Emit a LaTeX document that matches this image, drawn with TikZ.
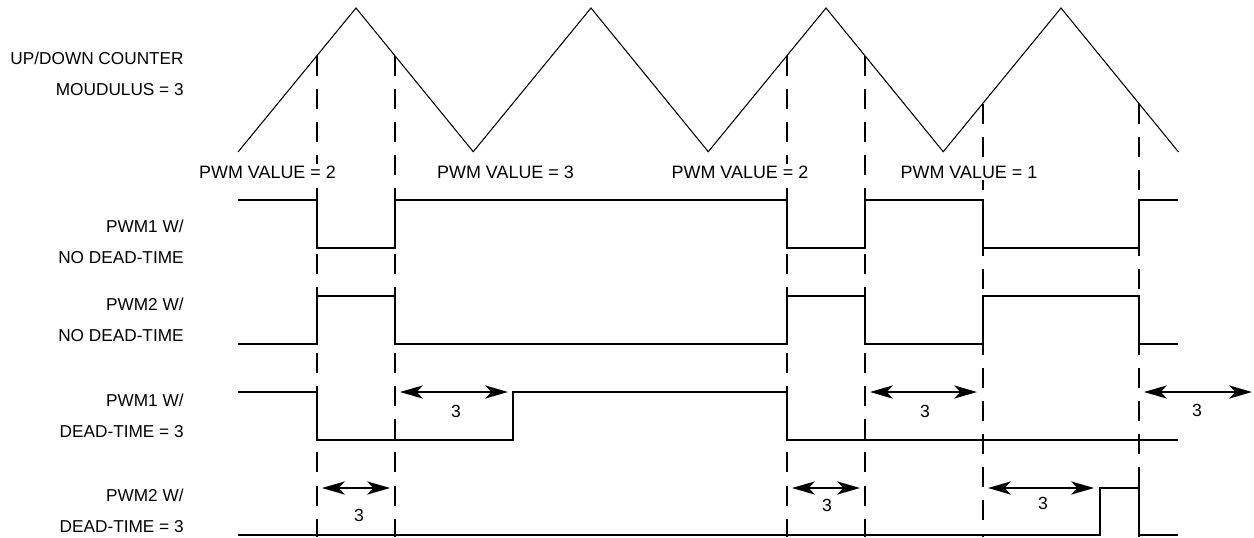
\documentclass[tikz,border=0pt]{standalone}
\usepackage{fontspec}
\setmainfont{Liberation Sans}
\usetikzlibrary{arrows.meta,calc}

\begin{document}
\begin{tikzpicture}[
    x=0.2mm,y=-0.2mm,
    tri/.style={line width=0.6pt},
    wave/.style={line width=1pt,line join=miter},
    edgeline/.style={line width=1pt,dash pattern=on 11.4pt off 7.4pt},
    span/.style={{Stealth[length=13pt,width=7.5pt,inset=3.5pt]}-{Stealth[length=13pt,width=7.5pt,inset=3.5pt]},
                 line width=0.9pt},
    lbl/.style={font=\fontsize{9.8}{17.6}\selectfont,align=right,anchor=east,inner sep=0pt},
    val/.style={font=\fontsize{10.2}{12}\selectfont,fill=white,inner sep=1pt},
    cnt/.style={font=\fontsize{10}{12}\selectfont,inner sep=0pt},
]
\useasboundingbox (0,0) rectangle (1254,537);

% up/down counter
\foreach \k in {0,...,3}
  \draw[tri] (238+235*\k,152) -- (356+235*\k,8) -- (473.5+235*\k,152);

% compare points
\coordinate (base) at (0,537);
\coordinate (a1) at (317,56);
\coordinate (a2) at (395,56);
\coordinate (b1) at (787,56);
\coordinate (b2) at (865,56);
\coordinate (c1) at (983,104);
\coordinate (c2) at (1139,104);
\foreach \c in {a1,a2,b1,b2,c1,c2}
  \draw[edgeline] (\c) -- (\c |- base);

% row labels
\node[lbl] (cnt) at (184,73.5) {UP/DOWN COUNTER\\ MOUDULUS = 3};
\node[lbl] (p1n) at (184,242)  {PWM1 W/\\ NO DEAD-TIME};
\node[lbl] (p2n) at (184,320)  {PWM2 W/\\ NO DEAD-TIME};
\node[lbl] (p1d) at (184,416)  {PWM1 W/\\ DEAD-TIME = 3};
\node[lbl] (p2d) at (184,511)  {PWM2 W/\\ DEAD-TIME = 3};

% pwm values
\node[val] (v1) at (267.5,172) {PWM VALUE = 2};
\node[val] (v2) at (505.5,172) {PWM VALUE = 3};
\node[val] (v3) at (740,172)   {PWM VALUE = 2};
\node[val] (v4) at (969,172)   {PWM VALUE = 1};

% waveforms
\draw[wave] (238,200) -- (317,200) -- (317,248) -- (395,248) -- (395,200)
            -- (787,200) -- (787,248) -- (865,248) -- (865,200) -- (983,200)
            -- (983,248) -- (1139,248) -- (1139,200) -- (1178,200);
\draw[wave] (238,344) -- (317,344) -- (317,296) -- (395,296) -- (395,344)
            -- (787,344) -- (787,296) -- (865,296) -- (865,344) -- (983,344)
            -- (983,296) -- (1139,296) -- (1139,344) -- (1178,344);
\draw[wave] (238,392) -- (317,392) -- (317,440) -- (513,440) -- (513,392)
            -- (787,392) -- (787,440) -- (1178,440);
\draw[wave] (238,535) -- (1100,535) -- (1100,488) -- (1139,488)
            -- (1139,535) -- (1178,535);

% dead-time spans
\coordinate (s1a) at (400,392);  \coordinate (s1b) at (508,392);
\coordinate (s2a) at (870,392);  \coordinate (s2b) at (977,392);
\coordinate (s3a) at (1144,392); \coordinate (s3b) at (1252,392);
\coordinate (s4a) at (322,488);  \coordinate (s4b) at (390,488);
\coordinate (s5a) at (792,488);  \coordinate (s5b) at (860,488);
\coordinate (s6a) at (988,488);  \coordinate (s6b) at (1094,488);
\draw[span] (s1a) -- (s1b);
\draw[span] (s2a) -- (s2b);
\draw[span] (s3a) -- (s3b);
\draw[span] (s4a) -- (s4b);
\draw[span] (s5a) -- (s5b);
\draw[span] (s6a) -- (s6b);
\node[cnt] (t1) at (456,411)  {3};
\node[cnt] (t2) at (925,411)  {3};
\node[cnt] (t3) at (1197,410) {3};
\node[cnt] (t4) at (359,515)  {3};
\node[cnt] (t5) at (827,505)  {3};
\node[cnt] (t6) at (1043,503) {3};

\end{tikzpicture}
\end{document}
